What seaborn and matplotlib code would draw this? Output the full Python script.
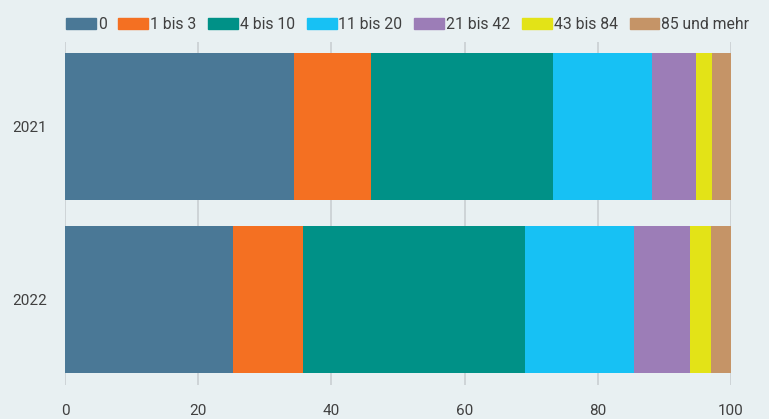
import matplotlib
matplotlib.use("Agg")
import matplotlib.pyplot as plt
import matplotlib.patches as mpatches
import numpy as np
import pandas as pd
import seaborn as sns

# data (share in %)
years = ["2021", "2022"]
groups = ["0", "1 bis 3", "4 bis 10", "11 bis 20", "21 bis 42", "43 bis 84", "85 und mehr"]
vals_2021 = [34.4, 11.6, 27.2, 14.9, 6.7, 2.3, 2.9]
vals_2022 = [25.3, 10.5, 33.2, 16.4, 8.5, 3.1, 3.0]
colors = ["#4a7896", "#f47022", "#009187", "#17c1f4", "#9c7db7", "#e3e317", "#c59467"]

bg = "#e8f0f2"

sns.set_theme(style="white")
plt.rcParams["font.family"] = ["Roboto", "DejaVu Sans"]

df = pd.DataFrame({"Jahr": years * len(groups),
                   "Gruppe": np.repeat(groups, len(years)),
                   "Wert": [v for pair in zip(vals_2021, vals_2022) for v in pair]})
df["Kumuliert"] = df.groupby("Jahr")["Wert"].cumsum()

fig = plt.figure(figsize=(7.69, 4.19), dpi=100, facecolor=bg)
ax = fig.add_axes([65 / 769, 1 - 385 / 419, 666 / 769, 343 / 419])
ax.set_facecolor(bg)

# stacked bars: draw cumulative totals from the largest down
for g, c in reversed(list(zip(groups, colors))):
    sub = df[df["Gruppe"] == g]
    sns.barplot(data=sub, x="Kumuliert", y="Jahr", order=years, orient="h",
                color=c, width=0.85, saturation=1, linewidth=0, ax=ax, zorder=3)

ax.set_xlim(0, 100)
ax.set_ylim(1.494, -0.488)
ax.set_xticks([0, 20, 40, 60, 80, 100])
ax.xaxis.grid(True, color="#c9cfd2", linewidth=1.2, zorder=0)
ax.yaxis.grid(False)
for s in ax.spines.values():
    s.set_visible(False)
ax.set_xlabel("")
ax.set_ylabel("")
ax.tick_params(axis="x", direction="out", length=12, width=1.5, color="#6b6b6b",
               pad=1.5, labelsize=11, labelcolor="#404040")
ax.tick_params(axis="y", length=0, pad=13, labelsize=11, labelcolor="#404040")

handles = [mpatches.Patch(color=c, label=g) for g, c in zip(groups, colors)]
fig.legend(handles=handles, loc="upper left", bbox_to_anchor=(52 / 769, 1 - 3 / 419),
           ncol=7, frameon=False, fontsize=11.3, handlelength=1.9, handleheight=0.75,
           handletextpad=0.12, columnspacing=0.75, labelcolor="#404040")

fig.savefig("out.png", dpi=100, facecolor=bg)
